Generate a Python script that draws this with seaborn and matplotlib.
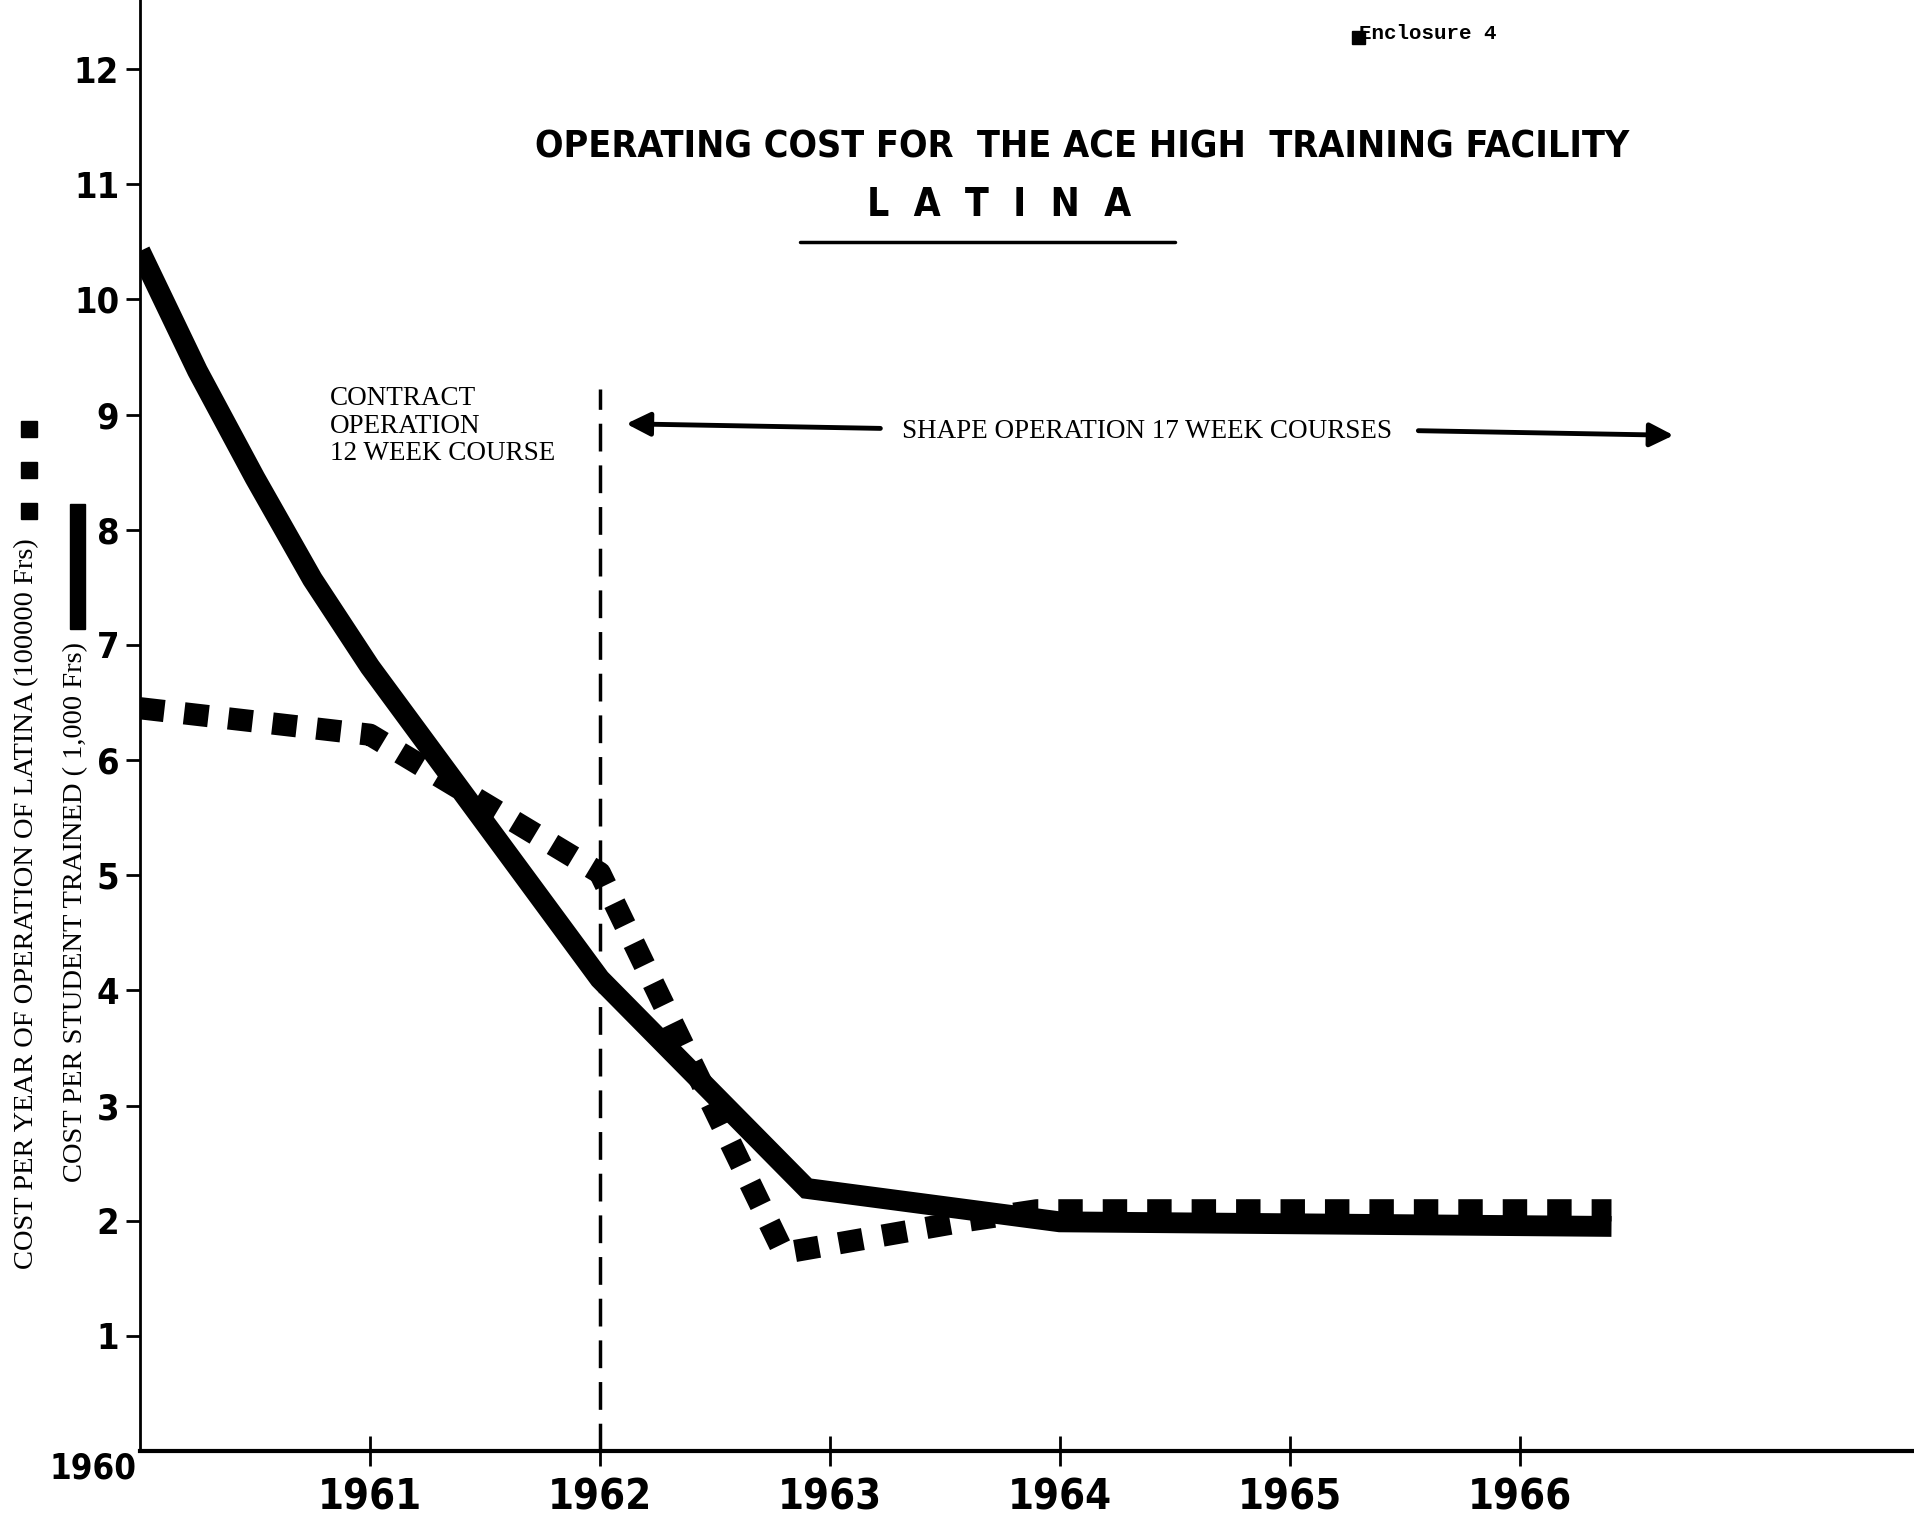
import matplotlib
matplotlib.use("Agg")  # headless
import matplotlib.pyplot as plt
from matplotlib import font_manager
from matplotlib.lines import Line2D
from matplotlib.patches import Rectangle
import pandas as pd
import seaborn as sns

# --- data ---
# cost per student trained (1,000 Frs) -> solid line
student_years = [1960.0, 1960.25, 1960.5, 1960.75, 1961.0, 1962.0, 1962.9, 1964.0, 1966.4]
student_cost = [10.42, 9.38, 8.45, 7.57, 6.81, 4.10, 2.28, 1.99, 1.95]

# cost per year of operation of Latina (100000 Frs) -> dashed line
operation_years = [1960.0, 1961.0, 1962.0, 1962.8, 1963.6, 1963.9, 1966.4]
operation_cost = [6.45, 6.22, 5.02, 1.72, 2.00, 2.09, 2.09]

x_ticks = [1961, 1962, 1963, 1964, 1965, 1966]
y_ticks = list(range(1, 13))
switch_year = 1962  # contract -> SHAPE operation

student_df = pd.DataFrame({"year": student_years, "cost": student_cost})
operation_df = pd.DataFrame({"year": operation_years, "cost": operation_cost})

# --- fonts / colours ---
sns.set_theme(style="white")
installed = {f.name for f in font_manager.fontManager.ttflist}
if "Liberation Sans Narrow" in installed:
    cond = dict(family="Liberation Sans Narrow", weight="bold")
else:
    cond = dict(family="DejaVu Sans", weight="bold", stretch="condensed")
serif = dict(family="Liberation Serif")
plt.rcParams["font.family"] = ["DejaVu Sans"]
plt.rcParams["text.color"] = "black"

fig = plt.figure(figsize=(19.15, 15.24), dpi=100)
ax = fig.add_axes([0.0731, 0.0479, 0.9269, 0.9521])

sns.lineplot(data=student_df, x="year", y="cost", ax=ax, color="black",
             lw=15, solid_joinstyle="miter", solid_capstyle="butt")
sns.lineplot(data=operation_df, x="year", y="cost", ax=ax, color="black",
             lw=16, linestyle=(0, (1.1, 0.9)), dash_capstyle="butt")

ax.set_xlim(1960, 1967.72)
ax.set_ylim(0, 12.6)
ax.set_xlabel("")
ax.set_ylabel("")

for side in ("top", "right"):
    ax.spines[side].set_visible(False)
ax.spines["left"].set_linewidth(2)
ax.spines["left"].set_color("black")
ax.spines["bottom"].set_linewidth(3)
ax.spines["bottom"].set_color("black")

ax.set_yticks(y_ticks)
ax.set_yticklabels([str(v) for v in y_ticks], fontsize=26, color="black", **cond)
ax.tick_params(axis="y", left=True, direction="out", length=10, width=2,
               pad=5, colors="black")
ax.set_xticks(x_ticks)
ax.set_xticklabels([str(v) for v in x_ticks], fontsize=30, color="black", **cond)
ax.tick_params(axis="x", bottom=True, direction="inout", length=22, width=2,
               pad=7, colors="black")
ax.text(1959.985, -0.15, "1960", ha="right", va="center", fontsize=25,
        color="black", clip_on=False, **cond)

# contract / SHAPE operation split
ax.axvline(switch_year, ymin=0, ymax=9.22 / 12.6, color="black", lw=2.5,
           linestyle=(0, (8, 4)))
ax.text(1960.825, 8.90, "CONTRACT\nOPERATION\n12 WEEK COURSE", ha="left",
        va="center", fontsize=19.5, linespacing=1.15, **serif)
ax.annotate("", xy=(1962.115, 8.92), xytext=(1963.22, 8.88),
            arrowprops=dict(arrowstyle="-|>", lw=3.5, color="black",
                            mutation_scale=36, shrinkA=0, shrinkB=0))
ax.annotate("", xy=(1966.67, 8.82), xytext=(1965.56, 8.86),
            arrowprops=dict(arrowstyle="-|>", lw=3.5, color="black",
                            mutation_scale=36, shrinkA=0, shrinkB=0))
ax.text(1964.38, 8.85, "SHAPE OPERATION 17 WEEK COURSES", ha="center",
        va="center", fontsize=19.5, **serif)

# titles
fig.text(0.565, 0.903, "OPERATING COST FOR  THE ACE HIGH  TRAINING FACILITY",
         ha="center", va="center", fontsize=27, **cond)
fig.text(0.5216, 0.8654, "L  A  T  I  N  A", ha="center", va="center",
         fontsize=28, **cond)
fig.add_artist(Line2D([0.4178, 0.6136], [0.8412, 0.8412], lw=2.5,
                      color="black", transform=fig.transFigure))
fig.text(0.7095, 0.978, "Enclosure 4", ha="left", va="center", fontsize=15,
         family="Liberation Mono", weight="bold")
fig.add_artist(Rectangle((0.706, 0.971), 0.0068, 0.0085, color="black",
                         transform=fig.transFigure))

# y-axis labels with their line keys
fig.text(0.0141, 0.4068, "COST PER YEAR OF OPERATION OF LATINA (100000 Frs)",
         rotation=90, ha="center", va="center", fontsize=20.5, **serif)
fig.text(0.0396, 0.4016, "COST PER STUDENT TRAINED ( 1,000 Frs)",
         rotation=90, ha="center", va="center", fontsize=20.5, **serif)
for top_px in (421, 462, 503):
    fig.add_artist(Rectangle((21 / 1915, 1 - (top_px + 16) / 1524),
                             16 / 1915, 16 / 1524, color="black",
                             transform=fig.transFigure))
fig.add_artist(Rectangle((70 / 1915, 1 - 629 / 1524), 15 / 1915, 125 / 1524,
                         color="black", transform=fig.transFigure))

fig.savefig("out.png", dpi=100, facecolor="white")
plt.close(fig)
